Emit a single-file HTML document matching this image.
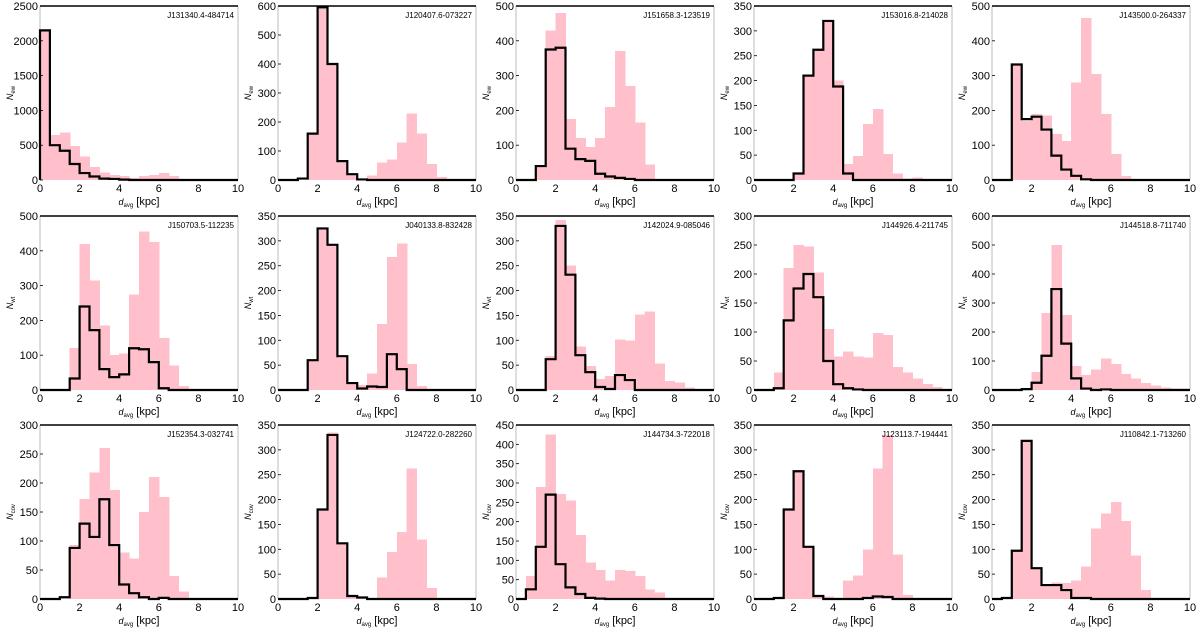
<!DOCTYPE html>
<html><head><meta charset="utf-8"><style>
html,body{margin:0;padding:0;background:#fff;}
svg{display:block;font-family:"Liberation Sans","DejaVu Sans",sans-serif;}
</style></head><body>
<svg id="chart" width="1200" height="628" viewBox="0 0 1200 628" xmlns="http://www.w3.org/2000/svg"></svg>
<script>
const names = ["J131340.4-484714","J120407.6-073227","J151658.3-123519","J153016.8-214028","J143500.0-264337",
"J150703.5-112235","J040133.8-832428","J142024.9-085046","J144926.4-211745","J144518.8-711740",
"J152354.3-032741","J124722.0-282260","J144734.3-722018","J123113.7-194441","J110842.1-713260"];
const yMaxes = [2500,600,500,350,500, 500,350,350,300,600, 300,350,450,350,350];
const yStepsTick = [500,100,100,50,100, 100,50,50,50,100, 50,50,50,50,50];
const binEdges = [0,0.5,1,1.5,2,2.5,3,3.5,4,4.5,5,5.5,6,6.5,7,7.5,8,8.5,9,9.5,10];
const xTicks = [0,2,4,6,8,10];
const pinkCounts = [
[2150,650,680,490,340,190,110,70,55,30,60,70,100,60,0,0,0,0,0,0],
[0,0,0,160,590,400,60,20,0,15,60,70,130,230,160,55,10,0,0,0],
[0,0,40,430,480,175,120,95,120,210,370,270,165,45,0,0,0,0,0,0],
[0,0,0,0,12,210,262,320,200,32,48,113,143,52,13,3,5,0,0,0],
[0,0,330,170,190,185,132,112,280,465,305,190,75,12,0,0,0,0,0,0],
[0,0,0,120,420,315,185,100,105,275,455,425,150,70,12,0,0,0,0,0],
[0,0,0,60,325,290,65,15,10,33,133,268,295,52,8,0,0,0,0,0],
[0,0,0,68,342,250,88,48,22,28,102,100,152,158,53,18,15,5,0,0],
[0,0,30,210,250,247,203,105,58,66,58,56,98,95,40,30,20,10,5,0],
[0,0,0,5,62,265,500,258,82,52,70,108,90,55,40,25,15,8,5,5],
[0,0,0,93,172,218,260,188,80,70,150,210,176,40,13,0,0,0,0,0],
[0,0,0,0,178,335,112,5,3,0,43,95,135,262,120,22,0,0,0,0],
[0,60,290,425,272,255,165,95,75,48,75,72,60,25,17,3,0,0,0,0],
[0,0,0,182,255,105,5,5,0,37,47,100,262,330,90,8,2,2,0,0],
[0,0,97,320,63,28,33,32,37,65,142,172,195,157,87,18,0,0,0,0]];
const blackCounts = [
[2150,500,420,230,100,50,20,15,5,0,0,0,0,0,0,0,0,0,0,0],
[0,0,5,160,595,400,65,20,2,0,0,0,0,0,0,0,0,0,0,0],
[0,0,40,375,380,90,60,55,18,10,6,3,0,0,0,0,0,0,0,0],
[0,0,0,0,13,210,262,320,188,13,0,0,0,0,0,0,0,0,0,0],
[0,0,332,175,182,145,70,30,12,2,0,0,0,0,0,0,0,0,0,0],
[0,0,0,33,240,172,60,37,45,120,117,80,5,0,0,0,0,0,0,0],
[0,0,0,60,325,292,68,14,3,7,6,72,42,0,0,0,0,0,0,0],
[0,0,0,62,330,232,70,36,6,2,30,20,0,0,0,0,0,0,0,0],
[0,0,3,120,175,200,160,50,10,3,1,0,0,0,0,0,0,0,0,0],
[0,0,0,3,25,118,348,160,40,5,0,2,0,0,0,0,0,0,0,0],
[0,0,3,88,130,107,172,93,25,10,3,0,2,0,0,0,0,0,0,0],
[0,0,0,2,180,330,112,6,3,0,0,0,0,0,0,0,0,0,0,0],
[0,25,135,270,90,30,13,3,1,0,0,0,0,0,0,0,0,0,0,0],
[0,0,2,180,257,105,6,0,0,0,0,2,5,4,0,0,0,0,0,0],
[0,2,97,318,62,28,28,18,2,2,0,0,0,0,0,0,0,0,0,0]];
const yLabels = ["N_ew","N_ew","N_ew","N_ew","N_ew","N_wt","N_wt","N_wt","N_wt","N_wt","N_cov","N_cov","N_cov","N_cov","N_cov"];

const NS="http://www.w3.org/2000/svg";
const svg=document.getElementById('chart');
function mk(tag,attrs,parent){const e=document.createElementNS(NS,tag);for(const k in attrs)e.setAttribute(k,attrs[k]);(parent||svg).appendChild(e);return e;}
const colX0=[40,278,516,754,992], rowTop=[6,216,425], W=198, H=174;

for(let i=0;i<15;i++){
  const r=Math.floor(i/5), c=i%5;
  const L=colX0[c], T=rowTop[r], B=T+H;
  const ym=yMaxes[i];
  const sx=v=>L+v/10*W, sy=v=>B-v/ym*H;
  const g=mk('g',{});
  
  
  pinkCounts[i].forEach((v,k)=>{
    if(v<=0)return;
    const rc=mk('rect',{x:sx(binEdges[k]),y:sy(v),width:sx(binEdges[k+1])-sx(binEdges[k])+0.6,height:B-sy(v),fill:'#ffc0cb','shape-rendering':'crispEdges'},g);
    
    
  });
  const sp=mk('path',{d:`M${L},${B}V${T}M${L+W},${T}V${B}`,stroke:'#bdbdbd','stroke-width':1,fill:'none'},g);
  
  
  const top=mk('line',{x1:L,x2:L+W,y1:T,y2:T,stroke:'#000','stroke-width':1.5},g);
  
  
  let d=`M${sx(0)},${sy(0)}`;
  blackCounts[i].forEach((v,k)=>{d+=`V${sy(v)}H${sx(binEdges[k+1])}`;});
  d+=`V${sy(0)}`;
  const st=mk('path',{d:d,stroke:'#000','stroke-width':2.2,fill:'none','stroke-linejoin':'miter'},g);
  
  
  for(let t=0;t<=ym+1e-9;t+=yStepsTick[i]){
    const tx=mk('text',{x:L-2,y:sy(t)+4,'text-anchor':'end','font-size':11,fill:'#000'},g);
    tx.textContent=t;
    
    
    mk('line',{x1:L,x2:L+3,y1:sy(t),y2:sy(t),stroke:'#000','stroke-width':0.8},g);
  }
  xTicks.forEach(t=>{
    const tx=mk('text',{x:sx(t),y:B+12,'text-anchor':'middle','font-size':11,fill:'#000'},g);
    tx.textContent=t;
    
    
  });
  const xl=mk('text',{x:L+W/2,y:B+25,'text-anchor':'middle','font-size':11,fill:'#000'},g);
  xl.innerHTML='<tspan font-style="italic" font-size="9">d</tspan><tspan font-size="6" dy="2">avg</tspan><tspan dy="-2"> [kpc]</tspan>';
  
  
  const yl=mk('text',{x:0,y:0,'text-anchor':'middle','font-size':9,fill:'#000',transform:`translate(${L-27},${T+H/2}) rotate(-90)`},g);
  const parts=yLabels[i].split('_');
  yl.innerHTML=`<tspan font-style="italic">${parts[0]}</tspan><tspan font-size="6" dy="2">${parts[1]}</tspan>`;
  
  
  const nm=mk('text',{x:L+W-4,y:T+12,'text-anchor':'end','font-size':8,fill:'#000'},g);
  nm.textContent=names[i];
  
  
}
</script>
</body></html>
